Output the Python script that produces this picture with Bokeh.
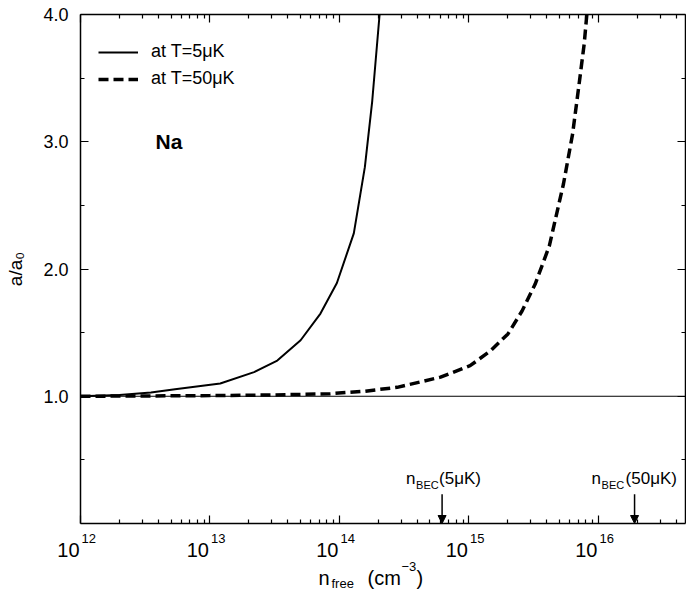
import math
from bokeh.plotting import figure
from bokeh.layouts import column
from bokeh.models import (Range1d, LinearAxis, LogAxis, FixedTicker, Span, Label,
                          Legend, LegendItem, Arrow, NormalHead, ColumnDataSource,
                          CustomJSTickFormatter, PrintfTickFormatter)
from bokeh.embed import file_html
from bokeh.resources import INLINE

# ---- data ----
solid_x = [1e12, 2e12, 3.5e12, 5.37e12, 1.20e13, 2.19e13, 3.31e13, 5.01e13, 7.13e13,
           9.55e13, 1.29e14, 1.57e14, 1.79e14, 2.04e14]
solid_y = [1.0, 1.01, 1.03, 1.055, 1.10, 1.19, 1.28, 1.44, 1.65, 1.89, 2.28, 2.80, 3.32, 4.0]

dash_x = [1e12, 1e13, 3.16e13, 8.5e13, 1.58e14, 2.79e14, 6.03e14, 1.02e15, 1.48e15, 2.0e15,
          2.57e15, 3.24e15, 4.17e15, 5.37e15, 6.31e15, 7.08e15, 7.76e15, 8.13e15]
dash_y = [1.0, 1.005, 1.01, 1.02, 1.04, 1.07, 1.15, 1.24, 1.36, 1.49, 1.67, 1.88, 2.18,
          2.67, 3.06, 3.45, 3.77, 4.0]

x_ticks = [1e12, 1e13, 1e14, 1e15, 1e16]
x_tick_exps = ["12", "13", "14", "15", "16"]
y_ticks = [1.0, 2.0, 3.0, 4.0]
y_minor = [0.5, 1.5, 2.5, 3.5]

bec_x = [6.2e14, 1.9e16]
bec_temps = ["(5μK)", "(50μK)"]
legend_labels = ["at T=5μK", "at T=50μK"]
species = "Na"
y_title = "a/a₀"

FONT = "Liberation Sans"
X_MIN, X_MAX = 1e12, 4.7e16

# ---- layout geometry ----
W = 686
BL, BR, BT, BB = 80, 1, 14, 2
FRAME_H = 509
MAIN_H = BT + FRAME_H + BB
XF_H = 591 - MAIN_H

p = figure(width=W, height=MAIN_H, x_axis_type="log",
           x_range=Range1d(X_MIN, X_MAX), y_range=Range1d(0, 4),
           output_backend="svg", toolbar_location=None,
           min_border_left=BL, min_border_right=BR, min_border_top=BT, min_border_bottom=BB)
p.grid.visible = False
p.outline_line_color = None
p.frame_align = False

x_minor = [m * t for t in x_ticks for m in range(2, 10)]
xticker = FixedTicker(ticks=x_ticks, minor_ticks=x_minor)
yticker = FixedTicker(ticks=y_ticks, minor_ticks=y_minor)
empty = CustomJSTickFormatter(code="return ''")


def style_axis(ax):
    ax.axis_line_color = "black"
    ax.axis_line_width = 1.5
    ax.major_tick_line_color = "black"
    ax.minor_tick_line_color = "black"
    ax.major_tick_line_width = 1.2
    ax.minor_tick_line_width = 1.2
    ax.major_tick_in = 8
    ax.major_tick_out = 0
    ax.minor_tick_in = 4
    ax.minor_tick_out = 0


xb = p.xaxis[0]
xb.ticker = xticker
xb.formatter = empty
xb.major_label_standoff = 0
style_axis(xb)

yl = p.yaxis[0]
yl.ticker = yticker
yl.formatter = PrintfTickFormatter(format="%.1f")
yl.major_label_text_font = FONT
yl.major_label_text_font_size = "18px"
yl.major_label_text_color = "black"
yl.major_label_standoff = 12
yl.axis_label = y_title
yl.axis_label_text_font = FONT
yl.axis_label_text_font_size = "19px"
yl.axis_label_text_font_style = "normal"
yl.axis_label_text_color = "black"
yl.axis_label_standoff = 14
style_axis(yl)

xt = LogAxis(ticker=xticker, formatter=empty, major_label_standoff=0)
style_axis(xt)
p.add_layout(xt, "above")

yr = LinearAxis(ticker=yticker, formatter=empty, major_label_standoff=0)
style_axis(yr)
p.add_layout(yr, "right")

p.add_layout(Span(location=1.0, dimension="width", line_color="black", line_width=1))

r1 = p.line(solid_x, solid_y, line_color="black", line_width=2)
r2 = p.line(dash_x, dash_y, line_color="black", line_width=3.5, line_dash="10 5")

legend = Legend(items=[LegendItem(label=legend_labels[0], renderers=[r1]),
                       LegendItem(label=legend_labels[1], renderers=[r2])],
                location=(18, 434), glyph_width=40, glyph_height=20, label_height=20,
                spacing=6, label_standoff=13, padding=0, margin=0,
                border_line_color=None, background_fill_alpha=0,
                label_text_font=FONT, label_text_font_size="18px", label_text_color="black")
p.add_layout(legend)


def lab(fig, text, x, y, size, xu="data", yu="data", xo=0, yo=0, align="left",
        baseline="alphabetic", style="normal"):
    fig.add_layout(Label(text=text, x=x, y=y, x_units=xu, y_units=yu, x_offset=xo, y_offset=yo,
                         text_font=FONT, text_font_size=f"{size}px", text_align=align,
                         text_baseline=baseline, text_font_style=style, text_color="black"))


# species label
lab(p, species, 3.8e12, 3.0, 21, style="bold")

# BEC arrows
src = ColumnDataSource(dict(x0=bec_x, y0=[0.23, 0.23], x1=bec_x, y1=[0.0, 0.0]))
p.add_layout(Arrow(end=NormalHead(size=8, fill_color="black", line_color="black", line_width=1),
                   x_start="x0", y_start="y0", x_end="x1", y_end="y1",
                   line_color="black", line_width=1.5, source=src))
offs = [(-36, -26, -3), (-43, -33, -9)]
for bx, tt, (o1, o2, o3) in zip(bec_x, bec_temps, offs):
    lab(p, "n", bx, 0.35, 17, xo=o1)
    lab(p, "BEC", bx, 0.35, 11, xo=o2, yo=-6)
    lab(p, tt, bx, 0.35, 17, xo=o3)

# ---- strip below: x tick labels and x title, same log scale extended over full width ----
frame_w = W - BL - BR
px_per_dec = frame_w / math.log10(X_MAX / X_MIN)
xf_lo = X_MIN * 10 ** (-BL / px_per_dec)
xf_hi = X_MIN * 10 ** ((W - BL) / px_per_dec)

xf = figure(width=W, height=XF_H, x_axis_type="log", x_range=Range1d(xf_lo, xf_hi),
            y_range=Range1d(0, XF_H), x_axis_location=None, y_axis_location=None,
            output_backend="svg", toolbar_location=None,
            min_border_left=0, min_border_right=0, min_border_top=0, min_border_bottom=0)
xf.grid.visible = False
xf.outline_line_color = None
xf.frame_align = False

for t, e in zip(x_ticks, x_tick_exps):
    lab(xf, "10", t, 42, 20, yu="screen", xo=-1, align="right")
    lab(xf, e, t, 53, 13, yu="screen", xo=1, align="left")

lab(xf, "n", 318, 14, 20, xu="screen", yu="screen")
lab(xf, "free", 331, 8, 13, xu="screen", yu="screen")
lab(xf, "(cm", 367, 14, 20, xu="screen", yu="screen")
lab(xf, "−3", 401, 25, 13, xu="screen", yu="screen")
lab(xf, ")", 416, 14, 20, xu="screen", yu="screen")

layout = column(p, xf, spacing=0)
open("out.html", "w").write(file_html(layout, INLINE))
